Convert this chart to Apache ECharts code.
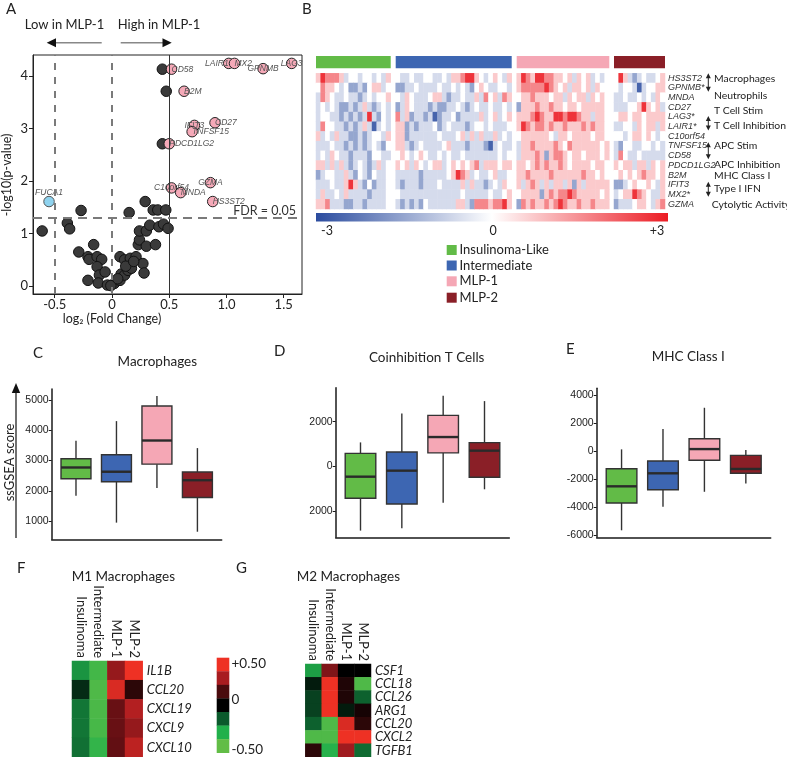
<!DOCTYPE html>
<html><head><meta charset="utf-8">
<script src="https://cdn.jsdelivr.net/npm/echarts@6/dist/echarts.min.js"></script>
<style>html,body{margin:0;padding:0;background:#fff}#c{width:787px;height:757px}</style>
</head><body><div id="c"></div>
<script>
// ================= DATA =================
// Panel A: volcano
const volcanoDarkX = [0.44,0.474,0.44,-0.61,-0.39,-0.37,-0.27,-0.29,-0.21,-0.20,-0.16,-0.21,-0.13,-0.09,-0.13,-0.11,-0.06,-0.12,-0.04,0.02,0.07,0.08,0.11,0.14,0.17,0.07,0.11,0.16,0.21,0.27,0.28,0.23,0.24,0.24,0.30,0.30,0.38,0.33,0.41,0.45,0.49,0.15,0.29,0.36,0.40,0.47,-0.01,0.05,0.12,0.19];
const volcanoDarkY = [4.13,3.71,2.71,1.05,1.20,1.09,1.44,0.65,0.56,0.51,0.79,0.11,0.56,0.51,0.37,0.21,0.27,0.06,0.02,0.05,0.11,0.23,0.21,0.30,0.34,0.56,0.50,0.53,0.56,0.43,0.25,0.79,0.88,1.05,0.76,1.05,0.79,1.16,1.13,1.18,1.10,1.40,1.61,1.45,1.45,1.45,0.01,0.14,0.38,0.47];
const volcanoPinkGenes = ['CD58','LAIR1','MX2','GPNMB','LAG3','B2M','IFIT3','CD27','TNFSF15','PDCD1LG2','C10orf54','MNDA','GZMA','HS3ST2'];
const volcanoPinkX = [0.52,1.02,1.07,1.32,1.57,0.63,0.72,0.90,0.70,0.50,0.52,0.60,0.86,0.88];
const volcanoPinkY = [4.13,4.24,4.24,4.14,4.24,3.71,3.06,3.11,2.94,2.71,1.87,1.78,1.97,1.61];
const volcanoBlueGenes = ['FUCA1'];
const volcanoBlueX = [-0.55];
const volcanoBlueY = [1.61];
const foldCutoffs = [-0.5, 0];
const highCutoff = 0.5;
const fdrCutoff = 1.3;
const volcanoXTicks = [-0.5, 0, 0.5, 1, 1.5];
const volcanoYTicks = [0, 1, 2, 3, 4];

// Panel B: heatmap (codes: Q=-2.6 W=-1.5 w=-0.6 .=0 r=0.7 R=1.6 X=2.7)
const groups = ['Insulinoma-Like','Intermediate','MLP-1','MLP-2'];
const groupColors = ['#62bb47','#3d66b2','#f5a7b5','#8a1f27'];
const heatGenes = ['HS3ST2','GPNMB*','MNDA','CD27','LAG3*','LAIR1*','C10orf54','TNFSF15','CD58','PDCD1LG2','B2M','IFIT3','MX2*','GZMA'];
const heatLevels = {Q:-2.6, W:-1.5, w:-0.6, '.':0, r:0.7, R:1.6, X:2.7};
const heatInsulinoma = ["rXRRRrw..w..w.wr",".Rrr.w.WWwW.rrw.","wRr.ww.wwWw.w..r","w.w.wWWwWwrwWw.w","w..wwWwWwWwXwW.w","wR..wwWwWwrwQw.w","rw.wrwwWWwWw..wr","www.wwWwWwWw.wW.","w.wr.wwWwwwW..ww","rrwrwrwWw.wWwrw.","Ww..wwrwW.wW.ww.","www.wwrXrwW.Www.","wrww.wrwwwwWwww.","rrRwwwWWwwWwwww."];
const heatIntermediate = [".ww.ww..ww.wrrRXXr.w.r.wr","WWww.wwww.ww.w.wW.r.ww..w",".wr.www.rrwWww.wwrwR.rwRr","Wwr.wwwWwWWww.wWw.ww.ww.w","RwrWwwWwQWww.Wwwwwrw.rw.r","rrWwWwww.Ww.wwwWw..w.www.","rrWwwwwww.www.rwrwrwwrw.w","rrwWw.wwww.rwwwWwwwWQw.ww",".r.w.r.ww.w.ww.wwwwwww.w.","r.rwr.w.rrw.r.r.rRwrrr.rr","wwwwwWwwwww.rXRrw.ww.rww.","wWwwwWwww.wwwwrwrwwWw.wr.",".wwwwwwwwwwwww.wwwww.ww.r","wWwWwW.wwwwwwrrwWRRRrRRXr"];
const heatMLP1 = ["rXRrXXRRrr.rwr.rw.w.","rRRRRRXRr.rwrr.rwr..",".rrRrrr.rrwr.rrwr.r.","WrrrRrrRrr.rr.rrrrr.","rrrRXRrrXXRXXRrrwrr.","rXRrRRrRrrRrrrRrRrr.",".rrrrrr.wrr.rrrr.rr.","wrrRrrrrRr.Rrrrrrr.r","wrrrRrWrRRr.rr.rrr.r","rr.rRrRrrRr.rrrr.rr.","rrRrrrrRrrrrrrRrr.r.","rwrRrwrwrrwrWrwrrrrr",".rrrrWrRrRRXRrrrrr.r","WRrRrrRrRXRrrRrrRrrr"];
const heatMLP2 = [".XrwWw.ww.r",".w..wQw..rr","ww.ww.w.wr.","www..rXr.rw",".rr.rr.rrrr","ww..wr.rrwr","..w.rr.r.w.","wW..ww..w.w","wR.ww.wwwww","r.rrwrrwr.r",".r.r.rRrr.r","WWw.r..r.wr","w.rrXRr.wwr","Wwww.rr.wrR"];
const heatColorTicks = ['-3','0','+3'];

// Panels C-E: boxplots (min, Q1, median, Q3, max) per subtype
const macroMin = [1840, 950, 2090, 650];
const macroQ1  = [2400, 2300, 2880, 1780];
const macroMed = [2770, 2630, 3660, 2350];
const macroQ3  = [3060, 3190, 4800, 2620];
const macroMax = [3650, 4300, 5130, 3410];
const coinhMin = [-2880, -2770, -1630, -1030];
const coinhQ1  = [-1430, -1690, 600, -490];
const coinhMed = [-465, -195, 1310, 700];
const coinhQ3  = [580, 640, 2280, 1060];
const coinhMax = [1070, 2370, 3160, 2920];
const mhcMin = [-5640, -3960, -2890, -2290];
const mhcQ1  = [-3690, -2740, -640, -1570];
const mhcMed = [-2500, -1570, 160, -1260];
const mhcQ3  = [-1240, -690, 900, -290];
const mhcMax = [140, 1590, 3110, 90];
const macroTicks = [1000, 2000, 3000, 4000, 5000];
const coinhTicks = [-2000, 0, 2000];
const mhcTicks = [-6000, -4000, -2000, 0, 2000, 4000];

// Panels F-G: M1 / M2 macrophage heatmaps
const subtypeCols = ['Insulinoma','Intermediate','MLP-1','MLP-2'];
const m1Genes = ['IL1B','CCL20','CXCL19','CXCL9','CXCL10'];
const m1Values = [
  [-0.28, -0.42, 0.30, 0.50],
  [-0.08, -0.45, 0.45, 0.10],
  [-0.22, -0.44, 0.22, 0.36],
  [-0.22, -0.43, 0.22, 0.30],
  [-0.21, -0.38, 0.21, 0.38]
];
const m2Genes = ['CSF1','CCL18','CCL26','ARG1','CCL20','CXCL2','TGFB1'];
const m2Values = [
  [-0.30, 0.26, 0.00, 0.00],
  [-0.05, 0.50, 0.07, -0.45],
  [-0.12, 0.50, 0.07, -0.18],
  [-0.12, 0.50, -0.05, 0.05],
  [-0.18, -0.45, 0.45, 0.10],
  [-0.45, -0.45, 0.50, 0.50],
  [0.10, -0.35, 0.32, -0.20]
];
const m1m2ScaleLabels = ['+0.50','0','-0.50'];

// ================= CHART =================
const FONT = "Lato,'Open Sans',sans-serif";
const ARIAL = "'Liberation Sans',Arial,sans-serif";
const chart = echarts.init(document.getElementById('c'), null, {renderer:'canvas', width:787, height:757});

const grids = [], xAxes = [], yAxes = [], series = [];
function addGrid(g){ g.outerBoundsMode = 'none'; g.containLabel = false; grids.push(g); return grids.length-1; }

// ---- A: volcano
const gA = addGrid({left:33, top:55, width:269, height:239, show:true, borderColor:'#222', borderWidth:1, backgroundColor:'transparent'});
xAxes.push({gridIndex:gA, type:'value', min:-0.69, max:1.66, splitLine:{show:false},
  axisLine:{show:true, onZero:false, lineStyle:{color:'#222', width:1}},
  axisTick:{show:true, customValues:volcanoXTicks, length:4, lineStyle:{color:'#222'}},
  axisLabel:{customValues:volcanoXTicks, color:'#222', fontSize:13, fontFamily:FONT, margin:4,
    formatter:v=> v===0 ? '0' : (Number.isInteger(v) ? v.toFixed(1) : String(v))}});
yAxes.push({gridIndex:gA, type:'value', min:-0.15, max:4.4, splitLine:{show:false},
  axisLine:{show:true, onZero:false, lineStyle:{color:'#222', width:1}},
  axisTick:{show:true, customValues:volcanoYTicks, length:4, lineStyle:{color:'#222'}},
  axisLabel:{customValues:volcanoYTicks, color:'#222', fontSize:13, fontFamily:FONT, margin:5}});
const aXi = xAxes.length-1, aYi = yAxes.length-1;
const dashGray = {color:'#7a7a7a', width:2};
series.push({type:'scatter', xAxisIndex:aXi, yAxisIndex:aYi, data:[], z:1, silent:true,
  markLine:{silent:true, symbol:'none', animation:false, label:{show:false},
    data:[
      ...foldCutoffs.map(v=>({xAxis:v, lineStyle:Object.assign({type:[7,7]}, dashGray)})),
      {xAxis:highCutoff, lineStyle:{type:'solid', color:'#333', width:1}},
      {yAxis:fdrCutoff, lineStyle:Object.assign({type:[9,6]}, dashGray)}
    ]}});
series.push({type:'scatter', xAxisIndex:aXi, yAxisIndex:aYi, z:3, symbolSize:10.5,
  data: volcanoDarkX.map((x,i)=>[x, volcanoDarkY[i]]),
  itemStyle:{color:'#3a3a3a', borderColor:'#111', borderWidth:1, opacity:1}});
const labelPlace = {CD58:['left',5,-7], LAIR1:['right',-3,-1], MX2:['left',0,10], GPNMB:['center',2,-8],
  LAG3:['center',-3,10], B2M:['left',5,-9], IFIT3:['center',2,-8.5], CD27:['left',2,-8.5],
  TNFSF15:['left',9,4], PDCD1LG2:['left',7,7], C10orf54:['center',1,-9.5], MNDA:['left',5,1.5],
  GZMA:['center',8,-8.5], HS3ST2:['left',6,-5.5], FUCA1:['center',0,-8.5]};
function geneLabel(g){ const p = labelPlace[g]||['left',6,0];
  return {show:true, formatter:g, position:'inside', align:p[0], verticalAlign:'middle', offset:[p[1],p[2]],
    fontStyle:'italic', fontSize:8.5, fontFamily:ARIAL, color:'#555'}; }
series.push({type:'scatter', xAxisIndex:aXi, yAxisIndex:aYi, z:4, symbolSize:10.5,
  data: volcanoPinkGenes.map((g,i)=>({name:g, value:[volcanoPinkX[i], volcanoPinkY[i]], label:geneLabel(g)})),
  itemStyle:{color:'#f5a9b8', borderColor:'#222', borderWidth:1, opacity:1}, labelLayout:{hideOverlap:false}});
series.push({type:'scatter', xAxisIndex:aXi, yAxisIndex:aYi, z:4, symbolSize:10.5,
  data: volcanoBlueGenes.map((g,i)=>({name:g, value:[volcanoBlueX[i], volcanoBlueY[i]], label:geneLabel(g)})),
  itemStyle:{color:'#8fd3ef', borderColor:'#555', borderWidth:1, opacity:1}});

// ---- B: heatmap in four groups
const heatGroups = [heatInsulinoma, heatIntermediate, heatMLP1, heatMLP2];
const hLeft = [316, 395.7, 516.7, 614], hWidth = [74.7, 116, 92.6, 51];
const heatSeriesIdx = [], heatGridIdx = [];
heatGroups.forEach((rows, gi)=>{
  const nCol = rows[0].length;
  const gIdx = addGrid({left:hLeft[gi], top:73.3, width:hWidth[gi], height:135.7});
  heatGridIdx.push(gIdx);
  xAxes.push({gridIndex:gIdx, type:'category', data:Array.from({length:nCol},(_,i)=>String(i)), show:false});
  const last = gi===heatGroups.length-1;
  yAxes.push({gridIndex:gIdx, type:'category', data:heatGenes, inverse:true, show:last, position:'right',
    axisLine:{show:false}, axisTick:{show:false},
    axisLabel:{show:last, interval:0, fontStyle:'italic', fontSize:9, fontFamily:ARIAL, color:'#333', margin:3}});
  const data = [];
  rows.forEach((s, r)=>{ for(let c=0;c<s.length;c++) data.push([c, r, heatLevels[s[c]]]); });
  series.push({type:'heatmap', xAxisIndex:xAxes.length-1, yAxisIndex:yAxes.length-1, data, silent:true,
    itemStyle:{borderWidth:0}, emphasis:{disabled:true}});
  heatSeriesIdx.push(series.length-1);
});

// ---- C, D, E: boxplots
function boxRender(params, api){
  const x = api.value(0);
  const pMin = api.coord([x, api.value(1)]), pQ1 = api.coord([x, api.value(2)]),
        pMd = api.coord([x, api.value(3)]), pQ3 = api.coord([x, api.value(4)]), pMax = api.coord([x, api.value(5)]);
  const bw = api.size([1,0])[0]*0.74, cx = pMin[0];
  const col = groupColors[params.dataIndex];
  const ls = {stroke:'#333', lineWidth:1.4};
  return {type:'group', children:[
    {type:'line', shape:{x1:cx, y1:pMax[1], x2:cx, y2:pQ3[1]}, style:ls},
    {type:'line', shape:{x1:cx, y1:pQ1[1], x2:cx, y2:pMin[1]}, style:ls},
    {type:'rect', shape:{x:cx-bw/2, y:pQ3[1], width:bw, height:pQ1[1]-pQ3[1]}, style:{fill:col, stroke:'#333', lineWidth:1.4}},
    {type:'line', shape:{x1:cx-bw/2, y1:pMd[1], x2:cx+bw/2, y2:pMd[1]}, style:{stroke:'#2a2a2a', lineWidth:2.4}}
  ]};
}
function addBox(gridDef, ymin, ymax, ticks, mins, q1, med, q3, maxs, fmt){
  const gIdx = addGrid(gridDef);
  xAxes.push({gridIndex:gIdx, type:'value', min:-0.6, max:3.6, splitLine:{show:false},
    axisLine:{show:true, onZero:false, lineStyle:{color:'#1a1a1a', width:1.5}}, axisTick:{show:false}, axisLabel:{show:false}});
  yAxes.push({gridIndex:gIdx, type:'value', min:ymin, max:ymax, splitLine:{show:false},
    axisLine:{show:true, onZero:false, lineStyle:{color:'#1a1a1a', width:1.5}},
    axisTick:{show:true, customValues:ticks, length:3, lineStyle:{color:'#1a1a1a', width:1}},
    axisLabel:{customValues:ticks, fontSize:10.5, fontFamily:ARIAL, color:'#222', margin:3, formatter:fmt||(v=>String(v))}});
  series.push({type:'custom', xAxisIndex:xAxes.length-1, yAxisIndex:yAxes.length-1, renderItem:boxRender, silent:true,
    encode:{x:0, y:[1,2,3,4,5]},
    data: mins.map((m,i)=>[i, m, q1[i], med[i], q3[i], maxs[i]])});
}
addBox({left:51.7, top:389, width:170, height:150.3}, 400, 5360, macroTicks, macroMin, macroQ1, macroMed, macroQ3, macroMax);
addBox({left:335.7, top:387.7, width:173.6, height:149.6}, -3180, 3520, coinhTicks, coinhMin, coinhQ1, coinhMed, coinhQ3, coinhMax, v=>String(Math.abs(v)));
addBox({left:596.7, top:388.3, width:174, height:149}, -6140, 4500, mhcTicks, mhcMin, mhcQ1, mhcMed, mhcQ3, mhcMax);

// ---- F, G heatmaps
const mSeriesIdx = [];
function addSmallHeat(gridDef, genes, values){
  const gIdx = addGrid(gridDef);
  xAxes.push({gridIndex:gIdx, type:'category', data:subtypeCols, position:'top',
    axisLine:{show:false}, axisTick:{show:false},
    axisLabel:{rotate:90, fontSize:13, fontFamily:FONT, color:'#222', margin:3, interval:0}});
  yAxes.push({gridIndex:gIdx, type:'category', data:genes, inverse:true, position:'right',
    axisLine:{show:false}, axisTick:{show:false},
    axisLabel:{fontStyle:'italic', fontSize:13, fontFamily:FONT, color:'#222', margin:4, interval:0}});
  const data = [];
  values.forEach((row, r)=>row.forEach((v, c)=>data.push([c, r, v])));
  series.push({type:'heatmap', xAxisIndex:xAxes.length-1, yAxisIndex:yAxes.length-1, data, silent:true,
    itemStyle:{borderWidth:0}, emphasis:{disabled:true}});
  mSeriesIdx.push(series.length-1);
}
addSmallHeat({left:72, top:661, width:70.7, height:96}, m1Genes, m1Values);
addSmallHeat({left:305.3, top:664, width:65.7, height:93}, m2Genes, m2Values);

const gmColors = ['#62bd46','#21b04b','#0b5a2c','#000000','#4a0b0e','#a81c20','#ee3124'];

// ---- graphics (text, arrows, legends)
const G = [];
function txt(x, y, s, o){ o=o||{};
  return {type:'text', x, y, rotation:o.rot||0, silent:true, style:{text:s, fontSize:o.size||12.5, fontFamily:o.font||FONT,
    fontStyle:o.italic?'italic':'normal', fill:o.color||'#222', align:o.align||'left', verticalAlign:'middle',
    textAlign:o.align||'left', textVerticalAlign:'middle'}}; }
function line(x1,y1,x2,y2,c,w){ return {type:'line', silent:true, shape:{x1,y1,x2,y2}, style:{stroke:c||'#222', lineWidth:w||1}}; }
function poly(pts, c){ return {type:'polygon', silent:true, shape:{points:pts}, style:{fill:c||'#111'}}; }
function vDouble(x, y1, y2){ return [line(x,y1+3,x,y2-3,'#222',1), poly([[x,y1],[x-2.5,y1+5],[x+2.5,y1+5]],'#222'), poly([[x,y2],[x-2.5,y2-5],[x+2.5,y2-5]],'#222')]; }

G.push(txt(6, 9, 'A', {size:15, color:'#222'}));
G.push(txt(302, 9, 'B', {size:15, color:'#222'}));
G.push(txt(64.5, 25, 'Low in MLP-1', {align:'center', size:13}));
G.push(txt(159, 25, 'High in MLP-1', {align:'center', size:13}));
G.push(line(101.7, 42.7, 55, 42.7, '#888', 1.5), poly([[46.7,42.7],[56,38.2],[56,47.2]]));
G.push(line(120.7, 42.7, 163, 42.7, '#888', 1.5), poly([[171.7,42.7],[162.5,38.2],[162.5,47.2]]));
G.push(txt(296, 210.5, 'FDR = 0.05', {align:'right', size:12.5, color:'#333'}));
G.push(txt(7, 175, '-log10(p-value)', {align:'center', size:12.5, rot:Math.PI/2}));
G.push(txt(112, 319, 'log\u2082 (Fold Change)', {align:'center', size:12.5}));

// colorbar
G.push({type:'rect', silent:true, shape:{x:316, y:213, width:352, height:8.5},
  style:{fill:new echarts.graphic.LinearGradient(0,0,1,0,[{offset:0,color:'#2b4c9f'},{offset:0.5,color:'#ffffff'},{offset:1,color:'#ec1c24'}])}});
G.push(txt(327, 231, heatColorTicks[0], {align:'center', size:12.5}));
G.push(txt(493, 231, heatColorTicks[1], {align:'center', size:12.5}));
G.push(txt(657, 231, heatColorTicks[2], {align:'center', size:12.5}));
// group legend
const legY = [250, 265.5, 281.3, 297.7];
groups.forEach((g,i)=>{
  G.push({type:'rect', silent:true, shape:{x:446.7, y:legY[i]-5, width:10, height:10}, style:{fill:groupColors[i]}});
  G.push(txt(459.5, legY[i], g, {size:13}));
});
// row annotations
const annX = 714;
[['Macrophages',79],['Neutrophils',96],['T Cell Stim',111],['T Cell Inhibition',126],['APC Stim',145.3],
 ['APC Inhibition',165],['MHC Class I',176],['Type I IFN',189],['Cytolytic Activity',204.3]].forEach(a=>{
  G.push(txt(a[0]==='Cytolytic Activity'?711.7:annX, a[1], a[0], {size:10.4}));
});
G.push(...vDouble(708.3, 73.3, 91.7), ...vDouble(708.3, 116, 130.5), ...vDouble(708.3, 142.3, 159.3), ...vDouble(708.3, 181.7, 196.7));

// C-E
G.push(txt(33, 353, 'C', {size:15}));
G.push(txt(274, 351, 'D', {size:15}));
G.push(txt(566, 349, 'E', {size:15}));
G.push(txt(157.3, 361.7, 'Macrophages', {align:'center', size:13.5}));
G.push(txt(426.7, 357.7, 'Coinhibition T Cells', {align:'center', size:13.5}));
G.push(txt(688.3, 356.7, 'MHC Class I', {align:'center', size:13.5}));
G.push(txt(9.5, 462.5, 'ssGSEA score', {align:'center', size:13, rot:Math.PI/2}));
G.push(line(16, 538, 16, 392, '#111', 1.2), poly([[16,383],[11.8,393],[20.2,393]]));

// F-G
G.push(txt(17, 568, 'F', {size:15}));
G.push(txt(236, 568, 'G', {size:15}));
G.push(txt(71.7, 577, 'M1 Macrophages', {size:13.5}));
G.push(txt(296.7, 577, 'M2 Macrophages', {size:13.5}));
const blkH = 95/7;
gmColors.slice().reverse().forEach((c,i)=>{
  G.push({type:'rect', silent:true, shape:{x:216.7, y:657.7+i*blkH, width:12.6, height:blkH+0.3}, style:{fill:c}});
});
G.push(txt(231.5, 664, m1m2ScaleLabels[0], {size:13.5}));
G.push(txt(231.5, 700, m1m2ScaleLabels[1], {size:13.5}));
G.push(txt(231.5, 750, m1m2ScaleLabels[2], {size:13.5}));

chart.setOption({
  animation:false,
  backgroundColor:'#ffffff',
  textStyle:{fontFamily:FONT},
  grid:grids, xAxis:xAxes, yAxis:yAxes, series:series,
  visualMap:[
    {type:'continuous', show:false, min:-3, max:3, seriesIndex:heatSeriesIdx, inRange:{color:['#2b4c9f','#ffffff','#ec1c24']}},
    {type:'continuous', show:false, min:-0.5, max:0.5, seriesIndex:mSeriesIdx, inRange:{color:gmColors}}
  ],
  graphic:G
});

// group annotation bars above heatmap B, placed from the library's own axes
const bars = [];
heatGroups.forEach((rows, gi)=>{
  const n = rows[0].length;
  const p0 = chart.convertToPixel({gridIndex:heatGridIdx[gi]}, [0, 0]);
  const p1 = chart.convertToPixel({gridIndex:heatGridIdx[gi]}, [n-1, 0]);
  const band = n>1 ? (p1[0]-p0[0])/(n-1) : 4;
  bars.push({type:'rect', silent:true, shape:{x:p0[0]-band/2, y:56, width:(p1[0]-p0[0])+band, height:12.3}, style:{fill:groupColors[gi]}});
});
chart.setOption({graphic:G.concat(bars)});
</script></body></html>
